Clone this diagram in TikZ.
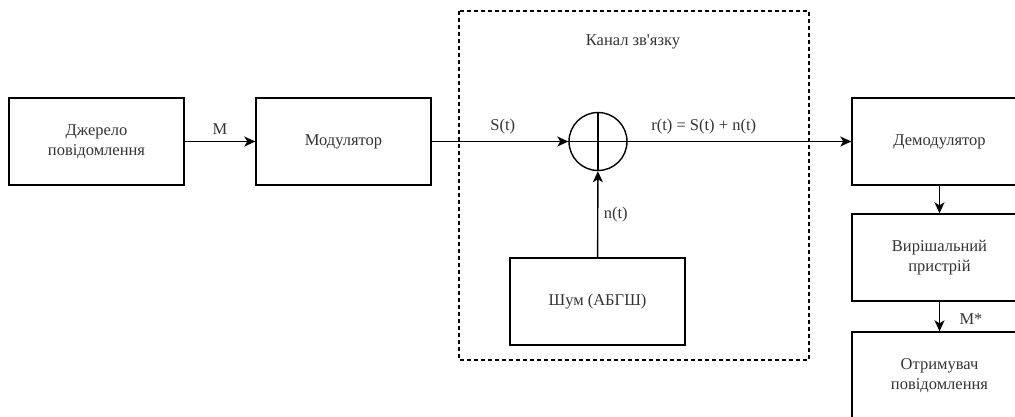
\documentclass[tikz,border=0pt]{standalone}
\usepackage{fontspec}
\setmainfont{Liberation Serif}[Ligatures=TeXOff]
\usetikzlibrary{arrows.meta}
\begin{document}
\begin{tikzpicture}[x=1pt,y=-1pt,
  blk/.style={draw,line width=1.4pt,minimum width=175pt,minimum height=87pt,align=center,font=\fontsize{16.5}{20}\selectfont,text=black!80},
  lbl/.style={font=\fontsize{16.5}{20}\selectfont,text=black!80},
  conn/.style={line width=1.4pt,-{Stealth[length=11pt,width=10pt,inset=3pt]}}]
\useasboundingbox (0,0) rectangle (1015,416);
\draw[line width=1.2pt,dash pattern=on 4pt off 3pt] (459,11) rectangle (809,360);
\node[lbl] (kanal) at (633,42) {Канал зв'язку};
\node[blk] (src) at (96.5,141.5) {Джерело\\повідомлення};
\node[blk] (mod) at (343.5,141.5) {Модулятор};
\node[draw,circle,line width=1.4pt,minimum size=58pt,inner sep=0pt] (sum) at (598,141.5) {};
\draw[line width=1.4pt] (sum.north) -- (sum.south) (sum.west) -- (sum.east);
\node[blk] (noise) at (597.5,301.5) {Шум (АБГШ)};
\node[blk] (demod) at (939.5,141.5) {Демодулятор};
\node[blk] (dec) at (939.5,257.5) {Вирішальний\\пристрій};
\node[blk] (rcv) at (939.5,375.5) {Отримувач\\повідомлення};
\draw[conn] (src) -- (mod) node[lbl,midway,above=3pt] (lm) {M};
\draw[conn] (mod) -- (sum) node[lbl,pos=0.52,above=3pt] (ls) {S(t)};
\draw[conn] (sum) -- (demod) node[lbl,pos=0.34,above=3pt] (lr) {r(t) = S(t) + n(t)};
\draw[conn] (noise) -- (sum) node[lbl,pos=0.5,right=2pt] (ln) {n(t)};
\draw[conn] (demod) -- (dec);
\draw[conn] (dec) -- (rcv) node[lbl,midway,right=16pt,yshift=-3pt] (lms) {M*};
\end{tikzpicture}
\end{document}
